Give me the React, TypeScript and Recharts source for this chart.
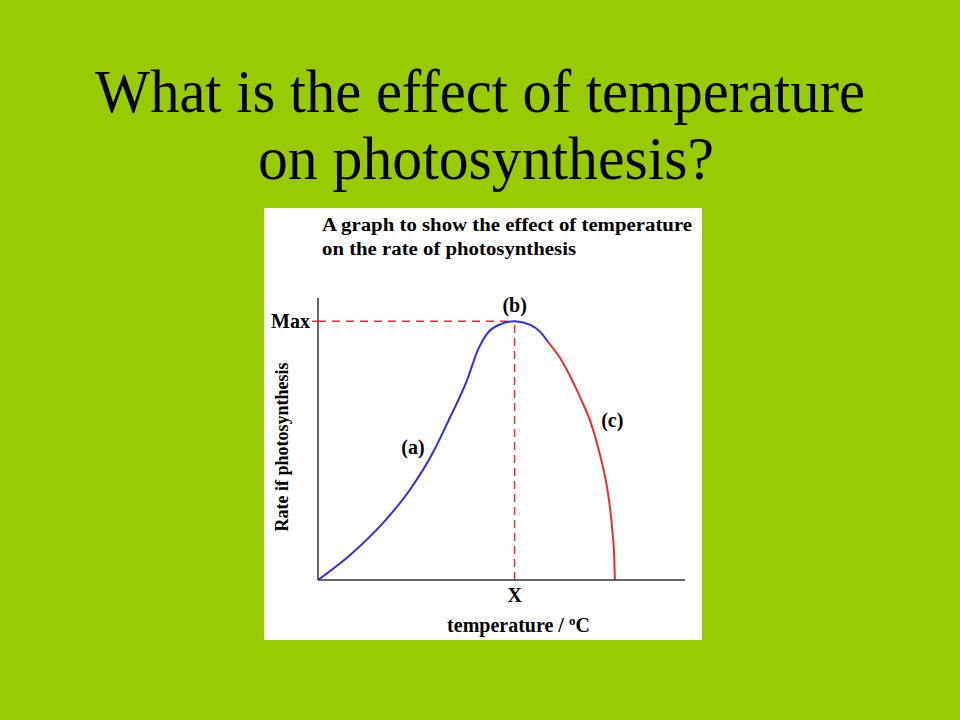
import {
  LineChart,
  Line,
  XAxis,
  YAxis,
  ReferenceLine,
  ReferenceDot,
  Label,
} from "recharts";

// temperature (arbitrary units, X = optimum) vs rate of photosynthesis (Max = 100)
const risingPhase = [
  { t: 0, rate: 0 },
  { t: 4.9, rate: 9.7 },
  { t: 9.9, rate: 22 },
  { t: 14, rate: 34.8 },
  { t: 17.5, rate: 49.1 },
  { t: 20.1, rate: 62.6 },
  { t: 22.7, rate: 77 },
  { t: 24.5, rate: 89.5 },
  { t: 25.9, rate: 95.5 },
  { t: 27.8, rate: 98.8 },
  { t: 30, rate: 100 },
  { t: 32.4, rate: 98.6 },
  { t: 33.9, rate: 95.9 },
  { t: 35.1, rate: 92 },
];

const fallingPhase = [
  { t: 35.1, rate: 92 },
  { t: 37.4, rate: 83.9 },
  { t: 39.5, rate: 73.4 },
  { t: 40.4, rate: 68.4 },
  { t: 41.6, rate: 61 },
  { t: 42.6, rate: 52.5 },
  { t: 43.4, rate: 44.5 },
  { t: 44.1, rate: 35.9 },
  { t: 44.6, rate: 27 },
  { t: 44.95, rate: 18 },
  { t: 45.2, rate: 9 },
  { t: 45.3, rate: 0 },
];

const optimumTemp = 30;
const maxRate = 100;

const curveLabels = [
  { t: 14.5, rate: 51.4, text: "(a)" },
  { t: 44.9, rate: 61.8, text: "(c)" },
];

const headingLines = ["What is the effect of temperature", "on photosynthesis?"];
const chartTitleLines = [
  "A graph to show the effect of temperature",
  "on the rate of photosynthesis",
];

const serif = '"Liberation Serif", "Times New Roman", serif';
const labelFont = { fontFamily: serif, fontSize: 20, fontWeight: "bold", fill: "#000" };

export default function App() {
  return (
    <div
      style={{
        position: "absolute",
        left: 0,
        top: 0,
        width: 960,
        height: 720,
        background: "#99cc00",
        overflow: "hidden",
      }}
    >
      <svg width={960} height={200} style={{ position: "absolute", left: 0, top: 0 }}>
        <text x={95} y={112} fontSize={61} fontFamily={serif} fill="#000" textLength={770} lengthAdjust="spacingAndGlyphs">
          {headingLines[0]}
        </text>
        <text x={258} y={179} fontSize={61} fontFamily={serif} fill="#000" textLength={456} lengthAdjust="spacingAndGlyphs">
          {headingLines[1]}
        </text>
      </svg>

      <div
        style={{
          position: "absolute",
          left: 264,
          top: 208,
          width: 438,
          height: 432,
          background: "#fff",
        }}
      >
        <svg width={438} height={60} style={{ position: "absolute", left: 0, top: 0 }}>
          <text x={58} y={23} {...labelFont} fontSize={18} textLength={370} lengthAdjust="spacingAndGlyphs">
            {chartTitleLines[0]}
          </text>
          <text x={58} y={47} {...labelFont} fontSize={18} textLength={254} lengthAdjust="spacingAndGlyphs">
            {chartTitleLines[1]}
          </text>
        </svg>

        <div style={{ position: "absolute", left: 0, top: 0 }}>
          <LineChart width={438} height={432} margin={{ top: 90, right: 17, bottom: 0, left: 0 }}>
            <XAxis
              type="number"
              dataKey="t"
              domain={[0, 56]}
              ticks={[optimumTemp]}
              tickFormatter={() => "X"}
              tickLine={false}
              axisLine={{ stroke: "#333", strokeWidth: 1.5 }}
              tick={labelFont}
              height={60}
              allowDataOverflow
            >
              <Label
                content={({ viewBox }: any) => (
                  <text
                    x={viewBox.x + viewBox.width / 2 + 17}
                    y={viewBox.y + 52}
                    textAnchor="middle"
                    {...labelFont}
                  >
                    temperature /{" "}
                    <tspan dy={-7} fontSize={13}>
                      o
                    </tspan>
                    <tspan dy={7}>C</tspan>
                  </text>
                )}
              />
            </XAxis>
            <YAxis
              type="number"
              domain={[0, 109]}
              ticks={[maxRate]}
              tickFormatter={() => "Max"}
              tickLine={{ stroke: "#e83030", strokeWidth: 1.5 }}
              tickSize={6}
              axisLine={{ stroke: "#333", strokeWidth: 1.5 }}
              tick={labelFont}
              width={54}
              allowDataOverflow
            >
              <Label
                content={({ viewBox }: any) => {
                  const x = viewBox.x + 24;
                  const y = viewBox.y + 149;
                  return (
                    <text
                      x={x}
                      y={y}
                      textAnchor="middle"
                      transform={`rotate(-90, ${x}, ${y})`}
                      {...labelFont}
                      fontSize={18}
                    >
                      Rate if photosynthesis
                    </text>
                  );
                }}
              />
            </YAxis>

            <ReferenceLine
              segment={[
                { x: 0, y: maxRate },
                { x: optimumTemp, y: maxRate },
              ]}
              stroke="#e83030"
              strokeWidth={1.5}
              strokeDasharray="8 6"
            />
            <ReferenceLine
              segment={[
                { x: optimumTemp, y: 0 },
                { x: optimumTemp, y: maxRate },
              ]}
              stroke="#e83030"
              strokeWidth={1.5}
              strokeDasharray="8 5"
            />

            <Line
              data={risingPhase}
              dataKey="rate"
              type="monotone"
              stroke="#2e2ee8"
              strokeWidth={2}
              dot={false}
              activeDot={false}
              isAnimationActive={false}
            />
            <Line
              data={fallingPhase}
              dataKey="rate"
              type="monotone"
              stroke="#ee2c2c"
              strokeWidth={2}
              dot={false}
              activeDot={false}
              isAnimationActive={false}
            />

            <ReferenceDot
              x={optimumTemp}
              y={maxRate}
              r={0}
              fill="none"
              stroke="none"
              label={{ value: "(b)", position: "top", offset: 9, ...labelFont }}
            />
            {curveLabels.map((l) => (
              <ReferenceDot
                key={l.text}
                x={l.t}
                y={l.rate}
                r={0}
                fill="none"
                stroke="none"
                label={{ value: l.text, position: "center", ...labelFont }}
              />
            ))}
          </LineChart>
        </div>
      </div>
    </div>
  );
}
